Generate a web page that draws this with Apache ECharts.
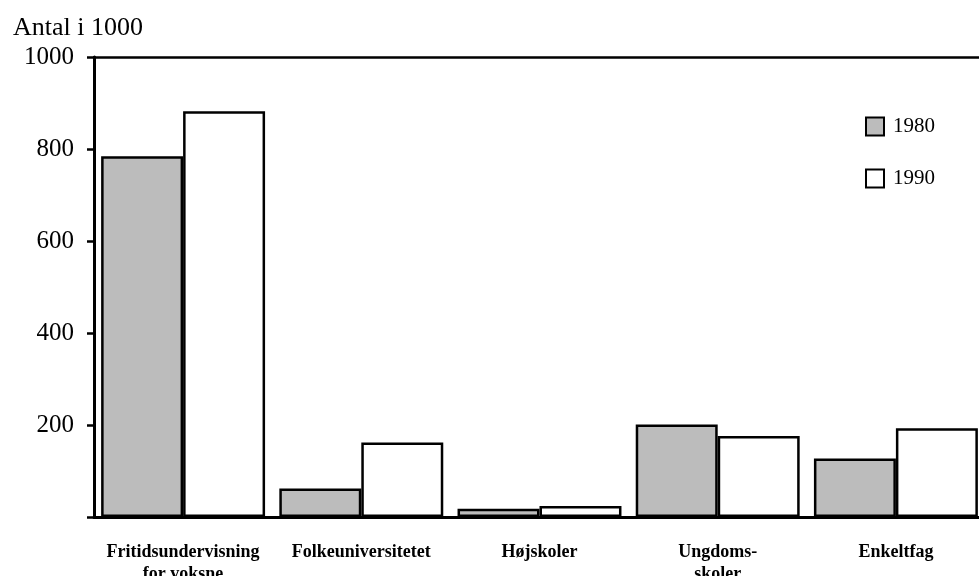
<!DOCTYPE html>
<html>
<head>
<meta charset="utf-8">
<script src="https://cdn.jsdelivr.net/npm/echarts@6/dist/echarts.min.js"></script>
<style>
html,body{margin:0;padding:0;background:#fff;overflow:hidden;}
#chart{width:979px;height:576px;position:absolute;left:0;top:0;}
</style>
</head>
<body>
<div id="chart"></div>
<script>
const categories = ["Fritidsundervisning\nfor voksne", "Folkeuniversitetet", "Højskoler", "Ungdoms-\nskoler", "Enkeltfag"];
const values1980 = [784, 62, 18, 201, 127];
const values1990 = [882, 162, 24, 176, 193];
const seriesNames = ["1980", "1990"];
const yTicks = [200, 400, 600, 800, 1000];

const chart = echarts.init(document.getElementById('chart'), null, {width: 979, height: 576});
const serif = '"Liberation Serif", "DejaVu Serif", serif';
chart.setOption({
  animation: false,
  backgroundColor: '#fff',
  title: {
    text: 'Antal i 1000',
    left: 8,
    top: 10,
    textStyle: {fontFamily: serif, fontSize: 26, fontWeight: 'normal', color: '#000'}
  },
  legend: {
    orient: 'vertical',
    left: 860,
    top: 111,
    itemWidth: 18,
    itemHeight: 18,
    itemGap: 31,
    icon: 'rect',
    data: seriesNames,
    textStyle: {fontFamily: serif, fontSize: 21, color: '#000', padding: [0,0,0,4]}
  },
  grid: {left: 94, right: -6, top: 57, bottom: 59, containLabel: false, outerBoundsMode: 'none'},
  xAxis: [{
    type: 'category',
    data: categories,
    axisLine: {show: true, lineStyle: {color: '#000', width: 3}},
    axisTick: {show: false},
    axisLabel: {
      interval: 0,
      margin: 24,
      fontFamily: serif,
      fontSize: 18,
      fontWeight: 'bold',
      color: '#000',
      lineHeight: 22
    }
  }, {
    type: 'category',
    position: 'top',
    data: categories,
    axisLine: {show: true, lineStyle: {color: '#000', width: 2.5}},
    axisTick: {show: false},
    axisLabel: {show: false}
  }],
  yAxis: {
    type: 'value',
    min: 0,
    max: 1000,
    interval: 200,
    axisLine: {show: true, lineStyle: {color: '#000', width: 3}},
    axisTick: {show: true, inside: false, length: 7, lineStyle: {color: '#000', width: 2.5}},
    splitLine: {show: false},
    axisLabel: {
      margin: 20,
      fontFamily: serif,
      fontSize: 25,
      color: '#000',
      formatter: function (v) { return yTicks.indexOf(v) >= 0 ? String(v) : ''; }
    }
  },
  series: [{
    name: seriesNames[0],
    type: 'bar',
    data: values1980,
    barGap: '0%',
    barCategoryGap: '8%',
    itemStyle: {color: '#bcbcbc', borderColor: '#000', borderWidth: 2.5}
  }, {
    name: seriesNames[1],
    type: 'bar',
    data: values1990,
    barGap: '0%',
    barCategoryGap: '8%',
    itemStyle: {color: '#ffffff', borderColor: '#000', borderWidth: 2.5}
  }]
});
</script>
</body>
</html>
